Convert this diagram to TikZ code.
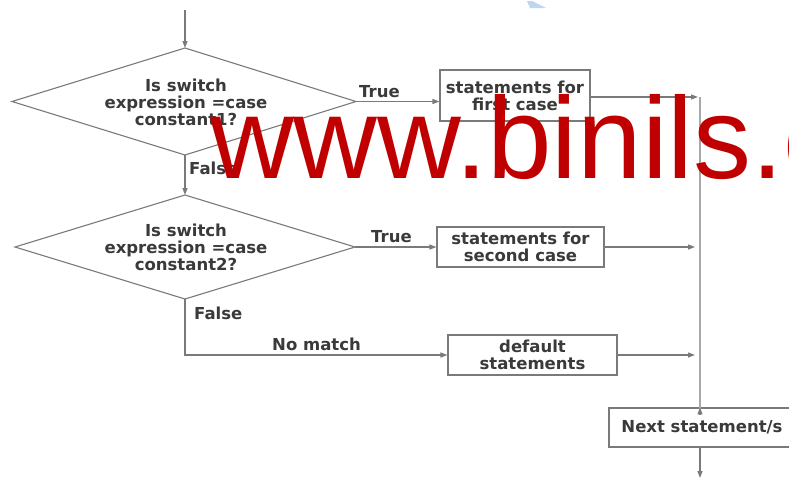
\documentclass[tikz,border=0pt]{standalone}
\usepackage{fontspec}
\setmainfont{DejaVu Sans}
\newfontfamily\wmfont{Liberation Sans}
\usetikzlibrary{arrows.meta}
\definecolor{linegray}{HTML}{7A7A7A}
\definecolor{vgray}{HTML}{A8A8A8}
\definecolor{txtgray}{HTML}{3A3A3A}
\definecolor{wmred}{HTML}{C00000}
\definecolor{sliver}{RGB}{190,214,240}
\begin{document}
\begin{tikzpicture}[x=1pt,y=-1pt,
  every node/.style={font=\bfseries\fontsize{16.5}{17}\selectfont, text=txtgray},
  dtext/.style={inner sep=0pt, align=center},
  dshape/.style={draw=linegray, line width=1.1pt},
  stepbox/.style={draw=linegray, line width=1.1pt, rectangle, inner sep=0pt, align=center},
  conn/.style={draw=linegray, line width=1.2pt},
  arr/.style={conn, -{Triangle[length=7pt,width=5pt]}},
  lbl/.style={inner sep=0pt, anchor=west}
]
\clip (0,0) rectangle (789,480);
\fill[white] (0,0) rectangle (789,480);
\fill[sliver] (527,1) -- (532,1) -- (546,8) -- (530,8) -- cycle;

% decision 1
\coordinate (d1n) at (185,48);
\coordinate (d1e) at (356,101.5);
\coordinate (d1s) at (185,155);
\coordinate (d1w) at (12,101.5);
\draw[dshape] (d1n) -- (d1e) -- (d1s) -- (d1w) -- cycle;
\node[dtext] (d1) at (186,102) {Is switch\\expression =case\\constant1?};

% decision 2
\coordinate (d2n) at (185,195);
\coordinate (d2e) at (355,247);
\coordinate (d2s) at (185,299);
\coordinate (d2w) at (15,247);
\draw[dshape] (d2n) -- (d2e) -- (d2s) -- (d2w) -- cycle;
\node[dtext] (d2) at (186,247) {Is switch\\expression =case\\constant2?};

% boxes
\node[stepbox, minimum width=150pt, minimum height=51pt] (b1) at (515,95.5)
  {statements for\\first case};
\node[stepbox, minimum width=167pt, minimum height=40pt] (b2) at (520.5,247)
  {statements for\\second case};
\node[stepbox, minimum width=169pt, minimum height=40pt] (b3) at (532.5,355)
  {default\\statements};
\node[stepbox, minimum width=186pt, minimum height=39pt] (nx) at (702,427.5)
  {Next statement/s};

\coordinate (start) at (185,10);
\coordinate (vtop) at (700,97);
\coordinate (vbot) at (700,478);

% labels
\node[lbl] (t1) at (359,92) {True};
\node[lbl] (f1) at (189,168) {False};
\node[lbl] (t2) at (371,237) {True};
\node[lbl] (f2) at (194,313) {False};
\node[lbl] (nm) at (272,344) {No match};

% connectors
\draw[arr] (start) -- (d1n);
\draw[arr] (d1e) -- (d1e -| b1.west);
\draw[arr, shorten >=2pt] (b1.east |- vtop) -- (vtop);
\draw[arr] (d1s) -- (d2n);
\draw[arr] (d2e) -- (b2.west);
\draw[arr, shorten >=5pt] (b2.east) -- (b2.east -| vtop);
\draw[arr] (d2s) -- (d2s |- b3.west) -- (b3.west);
\draw[arr, shorten >=5pt] (b3.east) -- (b3.east -| vtop);
\draw[draw=vgray, line width=2pt] (vtop) -- ([yshift=-6pt]nx.north -| vtop);
\draw[arr] ([yshift=-7pt]nx.north -| vtop) -- (nx.north -| vtop);
\draw[arr] (nx.south -| vtop) -- (vbot);

% watermark
\node[font=\wmfont\fontsize{116}{116}\selectfont, text=wmred, inner sep=0pt, anchor=base west] (wm) at (210,178) {www.binils.com};
\end{tikzpicture}
\end{document}
